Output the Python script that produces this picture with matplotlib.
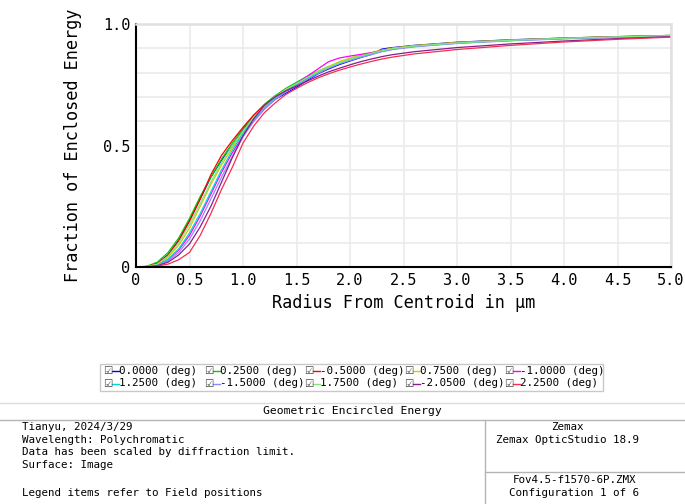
import numpy as np
import matplotlib.pyplot as plt
from matplotlib.lines import Line2D

# radius sample positions (um)
radius = [0.0, 0.1, 0.2, 0.3, 0.4, 0.5, 0.6, 0.7, 0.8, 0.9, 1.0, 1.1, 1.2, 1.3, 1.4, 1.5,
          1.6, 1.7, 1.8, 1.9, 2.0, 2.1, 2.2, 2.3, 2.4, 2.6, 3.0, 3.5, 4.0, 4.5, 5.0]

# enclosed energy per field
ee_f00 = [0, 0.002, 0.015, 0.05, 0.11, 0.19, 0.28, 0.37, 0.44, 0.50, 0.565, 0.615, 0.655, 0.69, 0.715,
          0.74, 0.768, 0.795, 0.815, 0.833, 0.848, 0.862, 0.875, 0.897, 0.903, 0.912, 0.925, 0.935, 0.942, 0.948, 0.953]
ee_f025 = [0, 0.003, 0.02, 0.06, 0.12, 0.20, 0.29, 0.37, 0.445, 0.51, 0.57, 0.625, 0.67, 0.705, 0.735,
           0.76, 0.785, 0.805, 0.825, 0.84, 0.855, 0.868, 0.88, 0.89, 0.90, 0.91, 0.924, 0.934, 0.942, 0.948, 0.953]
ee_fm05 = [0, 0.002, 0.014, 0.05, 0.11, 0.19, 0.28, 0.38, 0.46, 0.52, 0.575, 0.625, 0.665, 0.70, 0.73,
           0.755, 0.78, 0.80, 0.82, 0.838, 0.852, 0.866, 0.878, 0.89, 0.899, 0.91, 0.923, 0.933, 0.941, 0.947, 0.952]
ee_f075 = [0, 0.001, 0.01, 0.04, 0.09, 0.16, 0.25, 0.34, 0.42, 0.49, 0.555, 0.615, 0.66, 0.70, 0.73,
           0.755, 0.78, 0.805, 0.825, 0.845, 0.86, 0.872, 0.883, 0.893, 0.901, 0.911, 0.924, 0.934, 0.942, 0.948, 0.953]
ee_fm10 = [0, 0.001, 0.008, 0.03, 0.07, 0.13, 0.21, 0.30, 0.39, 0.47, 0.54, 0.60, 0.65, 0.69, 0.725,
           0.755, 0.785, 0.815, 0.845, 0.86, 0.868, 0.875, 0.882, 0.89, 0.897, 0.908, 0.922, 0.933, 0.941, 0.947, 0.952]
ee_f125 = [0, 0.001, 0.008, 0.032, 0.075, 0.14, 0.22, 0.31, 0.40, 0.48, 0.55, 0.61, 0.655, 0.695, 0.725,
           0.75, 0.775, 0.80, 0.82, 0.838, 0.852, 0.865, 0.876, 0.888, 0.897, 0.908, 0.921, 0.932, 0.94, 0.946, 0.951]
ee_fm15 = [0, 0.001, 0.006, 0.025, 0.06, 0.115, 0.19, 0.28, 0.37, 0.455, 0.535, 0.60, 0.65, 0.69, 0.72,
           0.745, 0.772, 0.796, 0.818, 0.836, 0.85, 0.863, 0.874, 0.886, 0.895, 0.906, 0.92, 0.931, 0.939, 0.945, 0.950]
ee_f175 = [0, 0.002, 0.012, 0.045, 0.10, 0.175, 0.26, 0.35, 0.43, 0.50, 0.56, 0.615, 0.66, 0.70, 0.73,
           0.755, 0.78, 0.803, 0.823, 0.84, 0.855, 0.868, 0.88, 0.89, 0.899, 0.909, 0.922, 0.933, 0.941, 0.947, 0.952]
ee_fm205 = [0, 0.001, 0.005, 0.02, 0.05, 0.095, 0.165, 0.25, 0.35, 0.45, 0.54, 0.61, 0.665, 0.70, 0.725,
            0.745, 0.765, 0.785, 0.803, 0.818, 0.832, 0.845, 0.856, 0.866, 0.874, 0.886, 0.903, 0.918, 0.93, 0.94, 0.948]
ee_f225 = [0, 0.0, 0.004, 0.012, 0.03, 0.06, 0.13, 0.22, 0.32, 0.41, 0.51, 0.58, 0.635, 0.675, 0.71,
           0.735, 0.758, 0.778, 0.795, 0.81, 0.823, 0.835, 0.846, 0.856, 0.864, 0.877, 0.895, 0.912, 0.926, 0.937, 0.946]

fields = ['0.0000', '0.2500', '-0.5000', '0.7500', '-1.0000',
          '1.2500', '-1.5000', '1.7500', '-2.0500', '2.2500']
curves = [ee_f00, ee_f025, ee_fm05, ee_f075, ee_fm10,
          ee_f125, ee_fm15, ee_f175, ee_fm205, ee_f225]
colors = ['#0000ff', '#00d000', '#ff0000', '#d8c800', '#ff00ff',
          '#00d8d8', '#8c8cff', '#80e880', '#8c1c8c', '#f03050']

mono = 'DejaVu Sans Mono'

fig = plt.figure(figsize=(6.85, 5.04), dpi=100)
ax = fig.add_axes([136/685, 1-267/504, (671-136)/685, (267-24)/504])

for ee, c in zip(curves, colors):
    ax.plot(radius, ee, color=c, lw=0.9)

ax.set_xlim(0, 5)
ax.set_ylim(0, 1)
ax.set_xticks(np.arange(0, 5.01, 0.5))
ax.set_xticklabels(['0'] + [f'{v:.1f}' for v in np.arange(0.5, 5.01, 0.5)])
ax.set_yticks([0, 0.5, 1.0])
ax.set_yticklabels(['0', '0.5', '1.0'])
ax.set_yticks(np.arange(0, 1.01, 0.1), minor=True)
ax.grid(True, which='both', color='#ebebeb', lw=1.2)
ax.set_axisbelow(True)
ax.tick_params(which='both', length=0, labelsize=11, pad=4)
for lab in ax.get_xticklabels() + ax.get_yticklabels():
    lab.set_family(mono)
for s in ['left', 'bottom']:
    ax.spines[s].set_color('black')
    ax.spines[s].set_linewidth(1.5)
for s in ['top', 'right']:
    ax.spines[s].set_color('#e0e0e0')
    ax.spines[s].set_linewidth(1.8)

ax.set_xlabel('Radius From Centroid in μm', family=mono, fontsize=12.2, labelpad=5)
ax.set_ylabel('Fraction of Enclosed Energy', family=mono, fontsize=12.2, labelpad=15)

# legend box, drawn in figure pixels
def fx(px):
    return px / 685

def fy(py):
    return 1 - py / 504

fig.add_artist(plt.Rectangle((fx(100), fy(391)), fx(603) - fx(100), fy(364) - fy(391),
                             fill=False, ec='#c8c8c8', lw=1, transform=fig.transFigure))
col_x = [103, 204, 304, 404, 504]
row_y = [370.5, 383.5]
for i, (f, c) in enumerate(zip(fields, colors)):
    x0 = col_x[i % 5]
    y0 = row_y[i // 5]
    fig.text(fx(x0), fy(y0), '☑', family='DejaVu Sans', fontsize=7.5, color='#404040',
             va='center', ha='left')
    fig.add_artist(Line2D([fx(x0 + 9), fx(x0 + 16)], [fy(y0), fy(y0)], color=c, lw=1,
                          transform=fig.transFigure))
    fig.text(fx(x0 + 16), fy(y0), f'{f} (deg)', family=mono, fontsize=7.8,
             va='center', ha='left')

# footer block
line_c = '#b4b4b4'
fig.add_artist(Line2D([0, 1], [fy(403), fy(403)], color='#dcdcdc', lw=1, transform=fig.transFigure))
fig.add_artist(Line2D([0, 1], [fy(420), fy(420)], color=line_c, lw=1, transform=fig.transFigure))
fig.add_artist(Line2D([fx(485), fx(485)], [fy(420), 0], color=line_c, lw=1, transform=fig.transFigure))
fig.add_artist(Line2D([fx(485), 1], [fy(472), fy(472)], color=line_c, lw=1, transform=fig.transFigure))

fs = 7.8
fig.text(fx(352), fy(411.5), 'Geometric Encircled Energy', family=mono, fontsize=8.2,
         ha='center', va='center')
left_lines = ['Tianyu, 2024/3/29', 'Wavelength: Polychromatic',
              'Data has been scaled by diffraction limit.', 'Surface: Image']
for k, t in enumerate(left_lines):
    fig.text(fx(22), fy(427 + 12.7 * k), t, family=mono, fontsize=fs, ha='left', va='center')
fig.text(fx(22), fy(493), 'Legend items refer to Field positions', family=mono, fontsize=fs,
         ha='left', va='center')
fig.text(fx(567), fy(427), 'Zemax', family=mono, fontsize=fs, ha='center', va='center')
fig.text(fx(567), fy(440), 'Zemax OpticStudio 18.9', family=mono, fontsize=fs, ha='center', va='center')
fig.text(fx(574), fy(480), 'Fov4.5-f1570-6P.ZMX', family=mono, fontsize=fs, ha='center', va='center')
fig.text(fx(574), fy(493), 'Configuration 1 of 6', family=mono, fontsize=fs, ha='center', va='center')

fig.savefig('out.png', dpi=100)
